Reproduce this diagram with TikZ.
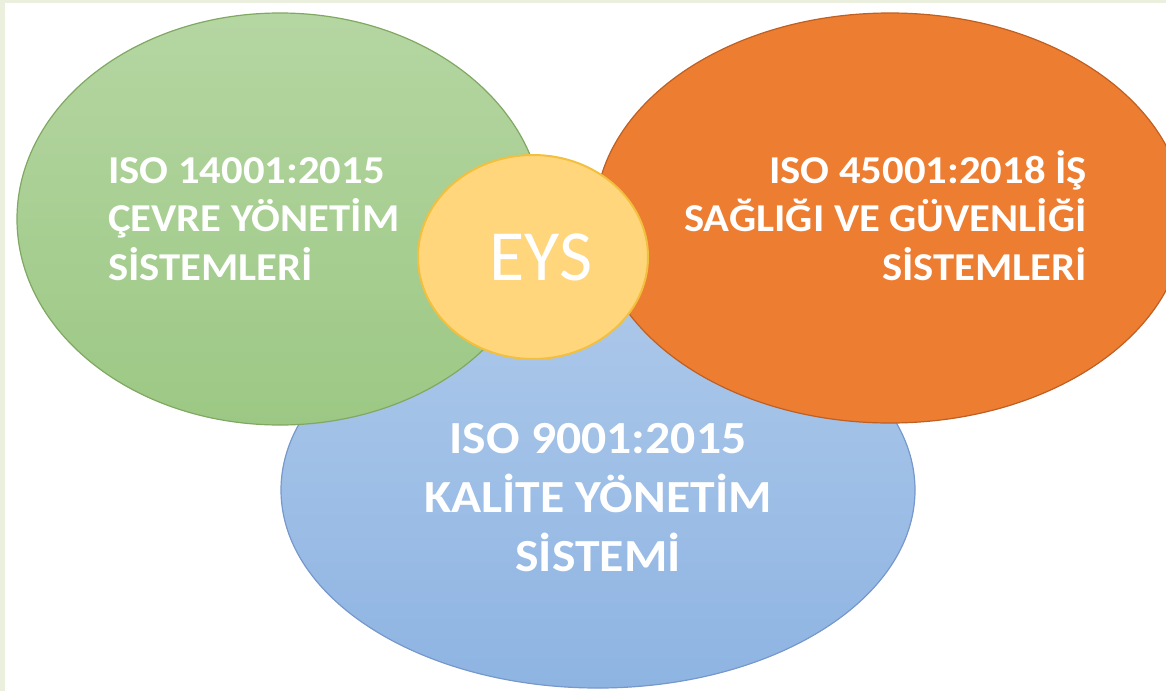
\documentclass[tikz,border=0pt]{standalone}
\usepackage{fontspec}
\setmainfont{Carlito}
\newfontfamily\setFont[FakeStretch=1.08]{Carlito}
\usetikzlibrary{shapes.geometric}
\definecolor{frameColor}{RGB}{234,240,221}
\definecolor{greenTop}{RGB}{181,214,162}
\definecolor{greenBottom}{RGB}{156,200,132}
\definecolor{greenLine}{RGB}{128,168,98}
\definecolor{orangeFill}{RGB}{237,125,49}
\definecolor{orangeLine}{RGB}{190,95,35}
\definecolor{blueTop}{RGB}{172,200,234}
\definecolor{blueBottom}{RGB}{142,180,226}
\definecolor{blueLine}{RGB}{118,152,204}
\definecolor{yellowFill}{RGB}{255,214,124}
\definecolor{yellowLine}{RGB}{242,192,62}
\tikzstyle{pixel} = [x=1pt, y=-1pt]
\tikzstyle{setStyle} = [ellipse, inner sep=0pt, line width=1.2pt]
\tikzstyle{setText} = [text=white, inner sep=0pt, font=\setFont\bfseries\fontsize{39.5}{48.5}\selectfont]
\newcommand{\setEllipse}[6]{\node [setStyle, #6, minimum width=#4pt, minimum height=#5pt] (#1) at (#2,#3) {};}

\begin{document}
\begin{tikzpicture}[pixel]
  \useasboundingbox (0,0) rectangle (1166,691);
  \clip (0,0) rectangle (1166,691);
  \fill [frameColor] (0,0) rectangle (5,691); \fill [frameColor] (0,0) rectangle (1166,3);
  % the four sets, back to front
  \setEllipse{quality}{598}{490}{634}{396}{draw=blueLine, top color=blueTop, bottom color=blueBottom}
  \setEllipse{environment}{280}{219}{526}{412}{draw=greenLine, top color=greenTop, bottom color=greenBottom}
  \setEllipse{safety}{890}{218}{590}{410}{draw=orangeLine, fill=orangeFill}
  \setEllipse{eys}{533}{257}{230}{204}{draw=yellowLine, fill=yellowFill, line width=2pt}
  % labels
  \node [setText, anchor=north west, align=left] (environmentText) at (108,157) {ISO 14001:2015\\ÇEVRE YÖNETİM\\SİSTEMLERİ};
  \node [setText, anchor=north east, align=right] (safetyText) at (1087,150) {ISO 45001:2018 İŞ\\SAĞLIĞI VE GÜVENLİĞİ\\SİSTEMLERİ};
  \node [setText, anchor=north, align=center, font=\setFont\bfseries\fontsize{46}{59}\selectfont] (qualityText) at (598,423) {ISO 9001:2015\\KALİTE YÖNETİM\\SİSTEMİ};
  \node [text=white, inner sep=0pt, anchor=base, font=\fontsize{72}{72}\selectfont] (eysText) at (541,280) {EYS};
\end{tikzpicture}
\end{document}
